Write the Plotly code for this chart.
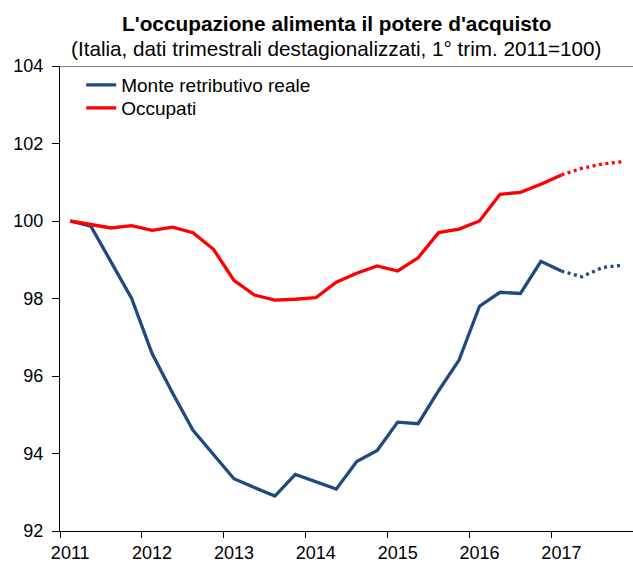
import plotly.graph_objects as go

# ---- data ----
quarters = [f"{y}T{q}" for y in range(2011, 2018) for q in range(1, 5)]
years = ["2011", "2012", "2013", "2014", "2015", "2016", "2017"]
monte_retributivo = [100.0, 99.87, 98.94, 98.0, 96.58, 95.56, 94.6, 93.97, 93.35, 93.12,
                     92.9, 93.46, 93.27, 93.08, 93.79, 94.08, 94.81, 94.77, 95.62, 96.41,
                     97.80, 98.16, 98.13, 98.96, 98.71, 98.56, 98.80, 98.86]
occupati = [100.0, 99.9, 99.82, 99.88, 99.76, 99.84, 99.70, 99.27, 98.47, 98.09,
            97.96, 97.98, 98.02, 98.42, 98.65, 98.84, 98.71, 99.05, 99.70, 99.79,
            100.0, 100.69, 100.74, 100.95, 101.19, 101.36, 101.47, 101.53]
n_actual = 25  # data up to 2017 T1, then forecasts (dotted)
y_ticks = [92, 94, 96, 98, 100, 102, 104]

FONT = "Liberation Sans, Arial, sans-serif"
BLUE = "#1F4A7E"
RED = "#FF0000"

x = list(range(len(quarters)))
xa = x[:n_actual]
xf = x[n_actual - 1:]

fig = go.Figure()
series = [("Monte retributivo reale", monte_retributivo, BLUE, "legend"),
          ("Occupati", occupati, RED, "legend2")]
for name, vals, col, leg in series:
    fig.add_trace(go.Scatter(x=xa, y=vals[:n_actual], mode="lines", name=name, legend=leg,
                             line=dict(color=col, width=3.3), showlegend=True))
for name, vals, col, leg in series:
    fig.add_trace(go.Scatter(x=xf, y=vals[n_actual - 1:], mode="lines", name=name + " (prev.)",
                             line=dict(color=col, width=3.3, dash="3px,3.5px"), showlegend=False))

year_pos = [quarters.index(f"{y}T1") for y in years]

leg_common = dict(xanchor="left", yanchor="middle", bgcolor="rgba(0,0,0,0)",
                  font=dict(size=19), itemwidth=30, borderwidth=0)

fig.update_layout(
    width=633, height=562,
    margin=dict(l=60, r=0, t=66, b=31, autoexpand=False),
    paper_bgcolor="white", plot_bgcolor="white",
    font=dict(family=FONT, size=18, color="black"),
    showlegend=True,
    legend=dict(x=0.037, y=0.959, **leg_common),
    legend2=dict(x=0.037, y=0.9096, **leg_common),
    xaxis=dict(range=[-0.5, len(quarters) - 0.5], tickvals=year_pos, ticktext=years,
               ticks="", showgrid=False, zeroline=False, showline=True, automargin=False,
               linecolor="black", linewidth=1, ticklabelstandoff=5,
               tickfont=dict(size=18),
               minor=dict(tick0=-0.5, dtick=4, ticks="outside", ticklen=6,
                          tickcolor="black", showgrid=False)),
    yaxis=dict(range=[92, 104], tickvals=y_ticks, ticks="outside", ticklen=7,
               tickcolor="black", showgrid=False, zeroline=False, showline=True,
               automargin=False,
               linecolor="black", linewidth=1, tickfont=dict(size=18),
               ticklabelstandoff=5),
    annotations=[
        dict(text="<b>L'occupazione alimenta il potere d'acquisto</b>", xref="paper", yref="paper",
             x=0.4834, y=1.0904, xanchor="center", yanchor="middle", showarrow=False,
             font=dict(size=20.8, family=FONT)),
        dict(text="(Italia, dati trimestrali destagionalizzati, 1° trim. 2011=100)",
             xref="paper", yref="paper", x=0.4834, y=1.0377, xanchor="center",
             yanchor="middle", showarrow=False, font=dict(size=20.7, family=FONT)),
    ],
    shapes=[dict(type="line", xref="paper", yref="y", x0=0, x1=1, y0=104, y1=104,
                 line=dict(color="black", width=1))],
)

fig.write_html("out.html", config={"displayModeBar": False},
               post_script="document.body.style.margin='0';document.body.style.overflow='hidden';")
